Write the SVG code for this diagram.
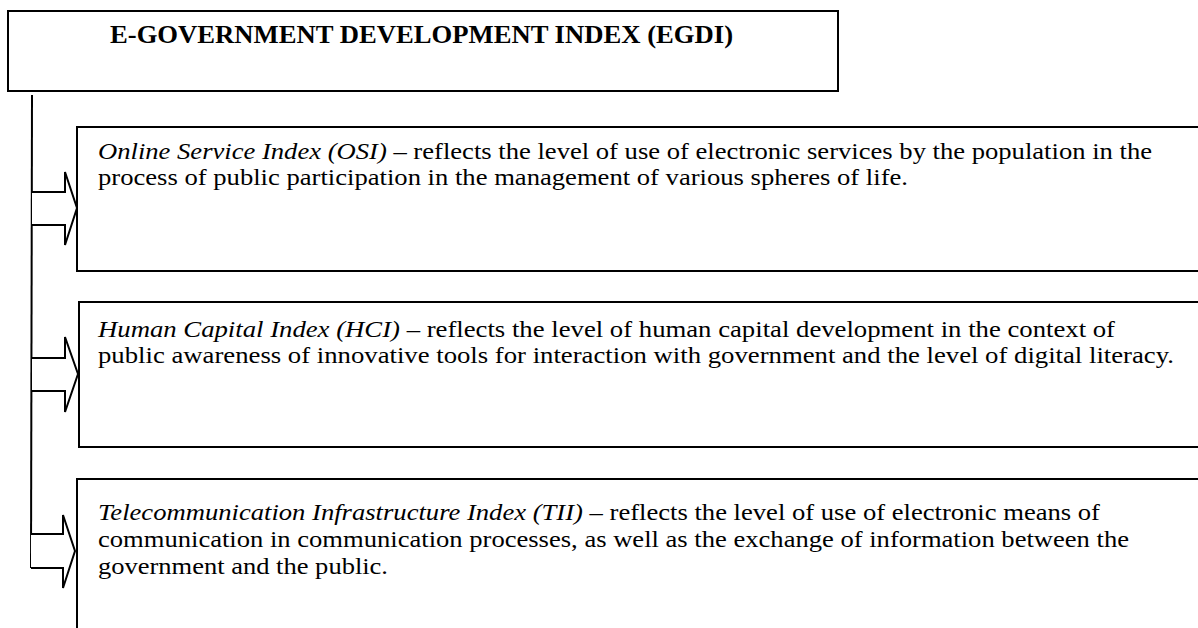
<svg xmlns="http://www.w3.org/2000/svg" width="1198" height="628" viewBox="0 0 1198 628">
<style>
.box{fill:#fff;stroke:#000;stroke-width:2}
.arr{fill:#fff;stroke:#000;stroke-width:2;stroke-linejoin:miter}
.line{fill:none;stroke:#000;stroke-width:2}
.t{font-family:"Liberation Serif","Times New Roman",serif;font-size:24px;fill:#000}
.it{font-style:italic}
.title{font-family:"Liberation Serif","Times New Roman",serif;font-size:25px;font-weight:bold;fill:#000}
</style>
<rect width="1198" height="628" fill="#fff"/>
<g id="egdi">
<rect class="box" x="8" y="11" width="830" height="80"/>
<text class="title" x="110" y="43" textLength="623" lengthAdjust="spacingAndGlyphs">E-GOVERNMENT DEVELOPMENT INDEX (EGDI)</text>
</g>
<g id="osi">
<rect class="box" x="77" y="127" width="1140" height="144"/>
<text class="t" x="98" y="159" textLength="1054" lengthAdjust="spacingAndGlyphs"><tspan class="it">Online Service Index (OSI)</tspan> – reflects the level of use of electronic services by the population in the</text>
<text class="t" x="98" y="185" textLength="810" lengthAdjust="spacingAndGlyphs">process of public participation in the management of various spheres of life.</text>
</g>
<g id="hci">
<rect class="box" x="79" y="302" width="1140" height="145"/>
<text class="t" x="98" y="337" textLength="1017" lengthAdjust="spacingAndGlyphs"><tspan class="it">Human Capital Index (HCI)</tspan> – reflects the level of human capital development in the context of</text>
<text class="t" x="98" y="363" textLength="1076" lengthAdjust="spacingAndGlyphs">public awareness of innovative tools for interaction with government and the level of digital literacy.</text>
</g>
<g id="tii">
<rect class="box" x="77" y="479" width="1140" height="170"/>
<text class="t" x="98" y="520" textLength="1002" lengthAdjust="spacingAndGlyphs"><tspan class="it">Telecommunication Infrastructure Index (TII)</tspan> – reflects the level of use of electronic means of</text>
<text class="t" x="98" y="547" textLength="1031" lengthAdjust="spacingAndGlyphs">communication in communication processes, as well as the exchange of information between the</text>
<text class="t" x="98" y="574" textLength="290" lengthAdjust="spacingAndGlyphs">government and the public.</text>
</g>
<g id="connectors">
<path class="line" d="M32 95 L31 568"/>
<path class="arr" d="M32 192 L65 192 L65 172 L77 208 L65 245 L65 225 L32 225"/>
<path class="arr" d="M32 358 L65 358 L65 337 L78 374 L65 412 L65 391 L32 391"/>
<path class="arr" d="M31 534 L63 534 L63 515 L75 551 L63 588 L63 568 L31 568"/>
</g>
</svg>
